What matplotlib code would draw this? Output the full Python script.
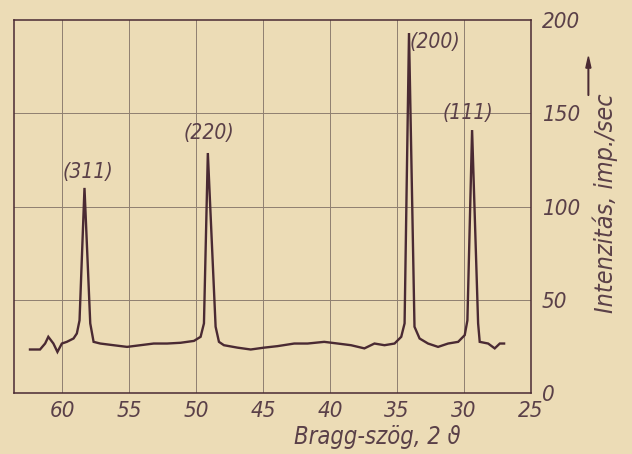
import numpy as np
import matplotlib.pyplot as plt

# Diffractogram trace (2-theta in degrees, intensity in imp./sec)
two_theta = [62.40, 61.65, 61.27, 61.03, 60.65, 60.35, 60.02, 59.65, 59.15, 58.90, 58.70,
             58.33,
             57.90, 57.65, 57.15, 56.16, 55.15, 54.16, 53.16, 52.16, 51.16, 50.16, 49.66, 49.41,
             49.12,
             48.54, 48.29, 47.92, 46.91, 45.92, 44.92, 43.92, 42.67, 41.67, 40.43, 39.42, 38.43,
             37.43, 36.68, 35.93, 35.18, 34.68, 34.43,
             34.10,
             33.69, 33.31, 32.68, 31.93, 31.18, 30.43, 29.94, 29.74,
             29.39,
             28.94, 28.82, 28.19, 27.70, 27.32, 27.00]
intensity = [23.4, 23.4, 26.6, 30.2, 26.6, 22.1, 26.6, 27.5, 29.3, 32.0, 39.0,
             110.0,
             37.4, 27.5, 26.6, 25.7, 24.8, 25.7, 26.6, 26.6, 27.0, 28.0, 30.2, 37.4,
             128.7,
             35.6, 27.5, 25.7, 24.4, 23.4, 24.4, 25.2, 26.6, 26.6, 27.5, 26.6, 25.7,
             24.0, 26.6, 25.7, 26.6, 30.2, 37.4,
             193.0,
             35.6, 29.3, 26.6, 24.8, 26.6, 27.5, 31.1, 39.0,
             141.0,
             37.4, 27.5, 26.6, 24.0, 26.6, 26.6]

# peak labels (Miller indices) and where they sit on the chart
peak_labels = ['(311)', '(220)', '(200)', '(111)']
label_x = [58.05, 49.06, 32.2, 29.67]
label_y = [118.5, 139.4, 188.0, 150.0]

x_ticks = [60, 55, 50, 45, 40, 35, 30, 25]
y_ticks = [0, 50, 100, 150, 200]

paper = '#ecdcb6'
ink = '#4a2a33'
text_c = '#5a4048'
grid_c = '#8f7f70'

plt.rcParams['font.family'] = ['DejaVu Sans']
plt.rcParams['font.stretch'] = 'condensed'
plt.rcParams['font.style'] = 'italic'

fig = plt.figure(figsize=(6.32, 4.54), dpi=100, facecolor=paper)
ax = fig.add_axes([0.022, 0.134, 0.818, 0.822], facecolor=paper)

ax.plot(two_theta, intensity, color=ink, lw=1.7, solid_joinstyle='miter')

ax.set_xlim(63.6, 25)
ax.set_ylim(0, 200)

ax.set_xticks(x_ticks)
ax.set_yticks(y_ticks)
ax.yaxis.tick_right()
ax.tick_params(axis='both', length=0, labelsize=16, colors=ink, labelcolor=text_c)
ax.tick_params(axis='x', pad=6)
ax.tick_params(axis='y', pad=8)
for lab in ax.get_yticklabels():
    lab.set_horizontalalignment('left')

for g in x_ticks[:-1]:
    ax.axvline(g, color=grid_c, lw=0.7, zorder=0)
for g in y_ticks[1:-1]:
    ax.axhline(g, color=grid_c, lw=0.7, zorder=0)

for s in ax.spines.values():
    s.set_color(ink)
    s.set_linewidth(1.1)

# hkl labels
for lab, lx, ly in zip(peak_labels, label_x, label_y):
    ax.text(lx, ly, lab, fontsize=15, color=text_c, ha='center', va='center')

ax.set_xlabel('Bragg-szög, 2 \u03d1', fontsize=17, color=text_c)
ax.xaxis.set_label_coords(0.702, -0.118)
ax.xaxis.label.set_verticalalignment('center')

fig.text(0.958, 0.553, 'Intenzitás, imp./sec', rotation=90, fontsize=18,
         color=text_c, ha='center', va='center')
fig.patches.append(plt.matplotlib.patches.FancyArrow(
    0.931, 0.79, 0, 0.06, width=0.001, head_width=0.008, head_length=0.025,
    color=ink, transform=fig.transFigure, figure=fig))

fig.savefig('out.png', dpi=100, facecolor=paper)
